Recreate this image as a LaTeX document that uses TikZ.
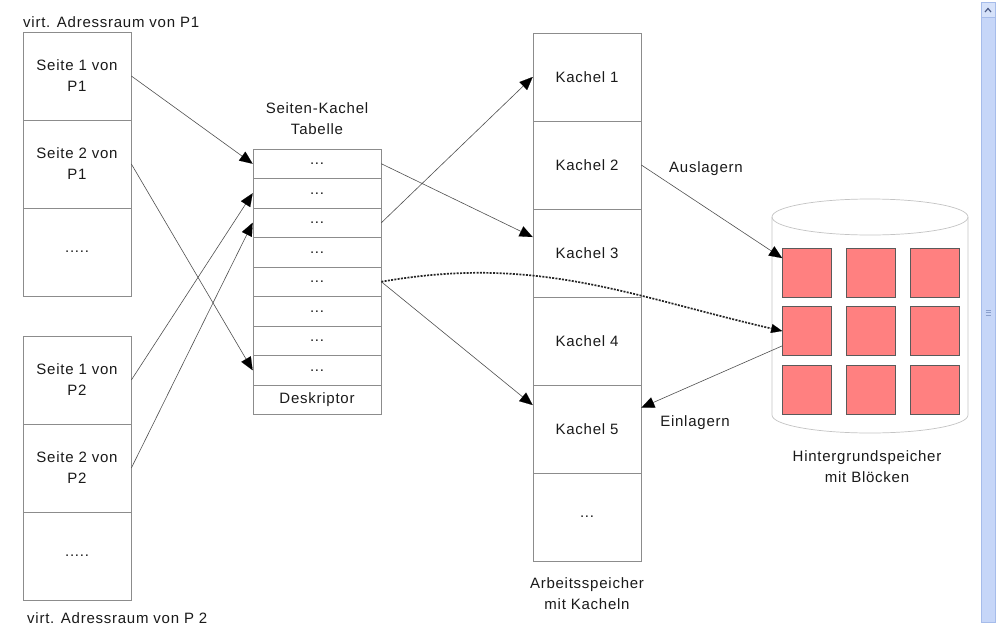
\documentclass[tikz,border=0pt]{standalone}
\usepackage{fontspec}
\setmainfont{Liberation Sans}[LetterSpace=5]
\usetikzlibrary{arrows.meta,calc}
\definecolor{boxline}{HTML}{8C8C8C}
\definecolor{arrline}{HTML}{505050}
\definecolor{txt}{HTML}{1A1A1A}
\definecolor{blockfill}{HTML}{FF8080}
\definecolor{blockline}{HTML}{5A5A5A}
\definecolor{cylline}{HTML}{C4C4C4}
\definecolor{sbfill}{HTML}{C6D6F8}
\definecolor{sbline}{HTML}{A6BCEA}
\definecolor{sbbtn}{HTML}{D6E2FA}
\definecolor{sbmark}{HTML}{4A5A85}
\tikzset{
  every node/.style={font=\fontsize{15}{21}\selectfont, text=txt},
  pagecell/.style={draw=boxline, line width=0.7pt, minimum width=108pt, minimum height=88pt, inner sep=0pt, align=center},
  tabrow/.style={draw=boxline, line width=0.7pt, minimum width=128pt, minimum height=29.5pt, inner sep=0pt},
  block/.style={draw=blockline, fill=blockfill, line width=0.6pt, minimum width=49pt, minimum height=49pt, inner sep=0pt},
  plain/.style={inner sep=0pt, align=center},
  tip/.tip={Triangle[length=13pt,width=11pt,color=black,fill=black,line width=0.1pt]},
  arr/.style={draw=arrline, line width=0.6pt, -tip},
  dotarr/.style={draw=black!85, line width=1.7pt, dash pattern=on 2pt off 1.3pt, -{Triangle[length=11pt,width=9pt,color=black,fill=black,line width=0.1pt]}}
}
\begin{document}
\begin{tikzpicture}[x=1pt,y=-1pt]
\useasboundingbox (0,0) rectangle (1002,627);
\fill[white] (0,0) rectangle (1002,627);

% labels
\node[plain, anchor=base west] (lp1) at (23,27) {virt. Adressraum von P1};
\node[plain, anchor=base west] (lp2) at (27,623) {virt. Adressraum von P 2};
\node[plain] (ltab) at (317,119) {Seiten-Kachel\\Tabelle};
\node[plain] (lram) at (587,594) {Arbeitsspeicher\\mit Kacheln};
\node[plain] (lhd) at (867,467) {Hintergrundspeicher\\mit Blöcken};

% P1 pages
\node[pagecell] (p11) at (77,76) {Seite 1 von\\P1};
\node[pagecell] (p12) at (77,164) {Seite 2 von\\P1};
\node[pagecell] (p13) at (77,252) {.....};
% P2 pages
\node[pagecell] (p21) at (77,380) {Seite 1 von\\P2};
\node[pagecell] (p22) at (77,468) {Seite 2 von\\P2};
\node[pagecell] (p23) at (77,556) {.....};

% table
\foreach \i/\yy in {1/163.75,2/193.25,3/222.75,4/252.25,5/281.75,6/311.25,7/340.75,8/370.25}{
  \node[tabrow] (t\i) at (317,\yy) {...};
}
\node[tabrow] (t9) at (317,399.75) {Deskriptor};

% tiles
\node[pagecell] (k1) at (587,77) {Kachel 1};
\node[pagecell] (k2) at (587,165) {Kachel 2};
\node[pagecell] (k3) at (587,253) {Kachel 3};
\node[pagecell] (k4) at (587,341) {Kachel 4};
\node[pagecell] (k5) at (587,429) {Kachel 5};
\node[pagecell] (k6) at (587,517) {...};

% cylinder
\draw[cylline, line width=0.7pt] (772,217) -- (772,415) arc[start angle=180, end angle=360, x radius=98pt, y radius=18pt] -- (968,217);
\draw[cylline, line width=0.7pt] (870,217) ellipse [x radius=98pt, y radius=18pt];

% blocks
\foreach \r/\yy in {1/273,2/331,3/390}{
  \foreach \c/\xx in {1/807,2/871,3/935}{
    \node[block] (s\r\c) at (\xx,\yy) {};
  }
}

% connectors
\draw[arr] (p11.east) -- (t1.west);
\draw[arr] (p12.east) -- (t8.west);
\draw[arr] (p21.east) -- (t2.west);
\draw[arr] (p22.east) -- (t3.west);
\draw[arr] (t1.east) -- ($(k3.north west)!0.32!(k3.south west)$);
\draw[arr] (t3.east) -- (k1.west);
\draw[arr] (t5.east) -- ($(k5.north west)!0.23!(k5.south west)$);
\draw[dotarr] (t5.east) to[out=10, in=167] (s21.west);
\draw[arr] (k2.east) -- ($(s11.north west)!0.2!(s11.south west)$);
\draw[arr] ($(s21.north west)!0.8!(s21.south west)$) -- ($(k5.north east)!0.26!(k5.south east)$);

\node[plain] (laus) at (706,169) {Auslagern};
\node[plain] (lein) at (695,423) {Einlagern};

% scrollbar
\draw[sbline, fill=sbfill, line width=0.6pt] (981,2) rectangle (995,622);
\draw[sbline, fill=sbbtn, line width=0.6pt] (981,2) rectangle (995,17);
\draw[sbmark, line width=1.2pt] (985,12) -- (988,8.5) -- (991,12);
\draw[sbline!70!sbmark, line width=0.5pt] (985.5,310) -- (990.5,310) (985.5,312.5) -- (990.5,312.5) (985.5,315) -- (990.5,315);
\end{tikzpicture}
\end{document}
